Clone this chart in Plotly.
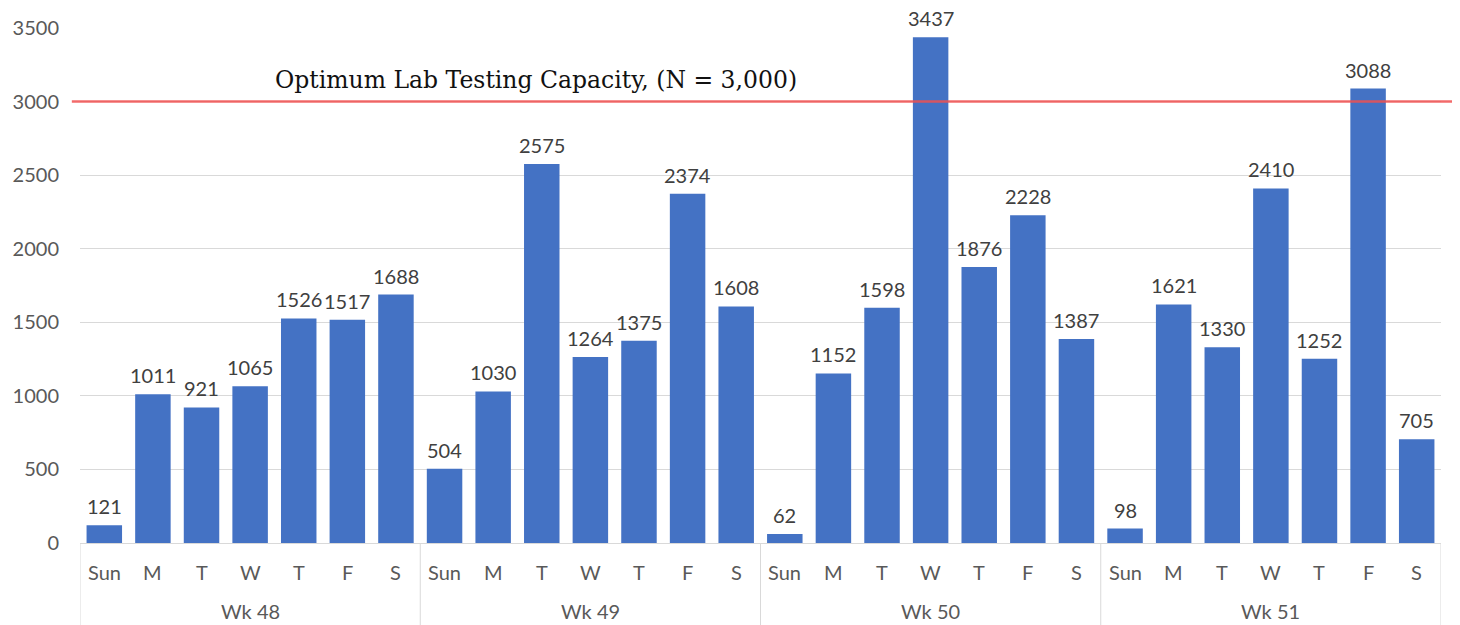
import plotly.graph_objects as go

weeks = ["Wk 48", "Wk 49", "Wk 50", "Wk 51"]
days = ["Sun", "M", "T", "W", "T", "F", "S"]
values = [
    [121, 1011, 921, 1065, 1526, 1517, 1688],
    [504, 1030, 2575, 1264, 1375, 2374, 1608],
    [62, 1152, 1598, 3437, 1876, 2228, 1387],
    [98, 1621, 1330, 2410, 1252, 3088, 705],
]
capacity = 3000
capacity_label = "Optimum Lab Testing Capacity, (N = 3,000)"
y_ticks = [0, 500, 1000, 1500, 2000, 2500, 3000, 3500]

SANS = "Lato, Open Sans, sans-serif"
cats, yv, day_of_cat = [], [], []
for w, vals in zip(weeks, values):
    for d, v in zip(days, vals):
        cats.append(f"{w} {d} {len(cats)}")
        yv.append(v)
        day_of_cat.append(d)

fig = go.Figure()
fig.add_trace(go.Bar(
    x=cats, y=yv,
    marker=dict(color="#4472C4", line=dict(width=0)),
    cliponaxis=False, hoverinfo="y",
))

# data labels
for c, v in zip(cats, yv):
    fig.add_annotation(x=c, y=v, text=str(v), showarrow=False, yanchor="bottom",
                       yshift=6, borderpad=0,
                       font=dict(family=SANS, size=20, color="#404040"))

# day labels
for c, d in zip(cats, day_of_cat):
    fig.add_annotation(x=c, xref="x", yref="paper", y=0, text=d, showarrow=False,
                       yanchor="middle", yshift=-29,
                       font=dict(family=SANS, size=20, color="#595959"))

# week labels and dividers
n = len(days)
for i, w in enumerate(weeks):
    fig.add_annotation(x=i * n + (n - 1) / 2, xref="x", yref="paper", y=0, text=w,
                       showarrow=False, yanchor="middle", yshift=-68,
                       font=dict(family=SANS, size=20, color="#595959"))
for k in range(len(weeks) + 1):
    fig.add_shape(type="line", xref="x", yref="paper", x0=k * n - 0.5, x1=k * n - 0.5,
                  y0=0, y1=-0.17, line=dict(color="#d9d9d9", width=1))

fig.add_shape(type="line", xref="paper", yref="y", x0=-0.006, x1=1.03,
              y0=capacity, y1=capacity,
              line=dict(color="rgba(240,80,80,0.85)", width=2.5), layer="above")
fig.add_annotation(xref="paper", yref="y", x=0.335, y=3147, text=capacity_label,
                   showarrow=False,
                   font=dict(family="DejaVu Serif, serif", size=23.5, color="#111111"))

fig.update_layout(
    width=1452, height=617,
    margin=dict(l=72, r=19, t=20, b=82),
    paper_bgcolor="white", plot_bgcolor="white",
    bargap=0.27, showlegend=False,
    font=dict(family=SANS, size=20, color="#595959"),
)
fig.update_xaxes(type="category", showticklabels=False, showline=True, linecolor="#d9d9d9",
                 linewidth=1, ticks="", showgrid=False, automargin=False,
                 range=[-0.5, len(cats) - 0.5])
fig.update_yaxes(range=[0, 3500], tickvals=y_ticks, showgrid=True, gridcolor="#d9d9d9",
                 zeroline=False, showline=False, ticklabelstandoff=20, automargin=False,
                 tickfont=dict(family=SANS, size=20, color="#595959"))

fig.write_html("out.html")
